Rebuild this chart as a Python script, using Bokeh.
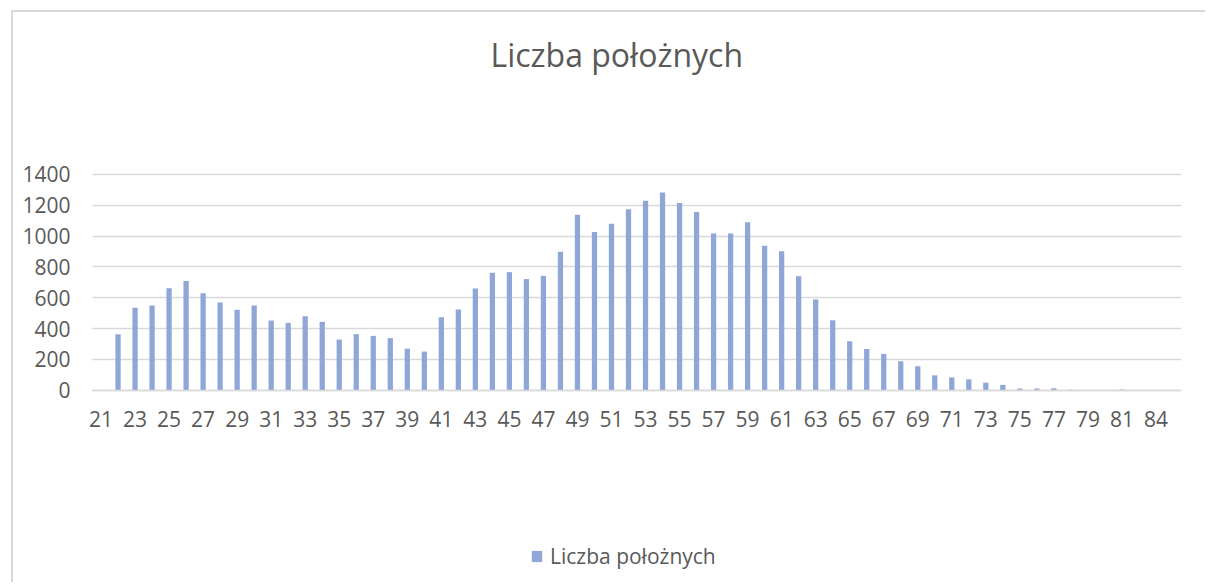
from bokeh.plotting import figure
from bokeh.models import (ColumnDataSource, Range1d, FixedTicker,
                          Legend, LegendItem, Title, BoxAnnotation)
from bokeh.embed import file_html
from bokeh.resources import INLINE

# ---- data ----
ages = ["21", "22", "23", "24", "25", "26", "27", "28", "29", "30",
        "31", "32", "33", "34", "35", "36", "37", "38", "39", "40",
        "41", "42", "43", "44", "45", "46", "47", "48", "49", "50",
        "51", "52", "53", "54", "55", "56", "57", "58", "59", "60",
        "61", "62", "63", "64", "65", "66", "67", "68", "69", "70",
        "71", "72", "73", "74", "75", "76", "77", "78", "79", "80",
        "81", "82", "84", "85"]
counts = [0, 364, 535, 550, 662, 708, 630, 569, 522, 550,
          452, 437, 480, 444, 329, 364, 353, 338, 270, 251,
          474, 524, 660, 762, 766, 721, 742, 898, 1138, 1026,
          1080, 1173, 1229, 1283, 1214, 1156, 1017, 1017, 1089, 937,
          902, 740, 589, 454, 318, 268, 236, 188, 156, 97,
          84, 71, 50, 35, 11, 11, 13, 4, 2, 2,
          6, 0, 0, 0]
y_ticks = [0, 200, 400, 600, 800, 1000, 1200, 1400]
series_name = "Liczba położnych"
title_text = "Liczba położnych"

FONT = "Open Sans"
TXT = "#595959"
GRID = "#d9d9d9"
BAR = "#8FA6D7"

pos = list(range(len(ages)))
src = ColumnDataSource(dict(pos=pos, age=ages, n=counts))

cat_start = -0.5                      # left edge of the category axis
x_lo = cat_start - 14 / 17            # a little room for the first tick label

# the plot area reaches down to the chart's bottom edge so that the legend can sit
# inside it; the value axis keeps 0 at the category axis line
p = figure(x_range=Range1d(x_lo, len(ages) - 0.5), y_range=Range1d(-1259, 1425),
           width=1194, height=572, output_backend="svg", toolbar_location=None,
           min_border_left=65, min_border_right=26, min_border_top=158,
           min_border_bottom=0)
p.title = None
p.margin = (10, 0, 0, 11)
p.styles = {"border-top": "2px solid #d9d9d9", "border-left": "2px solid #d9d9d9"}
p.outline_line_color = None
p.background_fill_color = "white"
p.border_fill_color = "white"

# grid
p.xgrid.grid_line_color = None
p.ygrid.grid_line_color = GRID
p.ygrid.grid_line_width = 1.5
# keep gridlines starting at the category axis' left edge
p.add_layout(BoxAnnotation(right=cat_start, fill_color="white", fill_alpha=1,
                           line_alpha=0, level="underlay"))

r = p.vbar(x="pos", top="n", bottom=0, width=0.31, source=src,
           fill_color=BAR, line_color=None)

# y axis
p.yaxis.ticker = FixedTicker(ticks=y_ticks, minor_ticks=[])
p.yaxis.axis_line_color = None
p.yaxis.major_tick_line_color = None
p.yaxis.minor_tick_line_color = None
p.yaxis.major_tick_out = 0
p.yaxis.major_tick_in = 0
p.yaxis.major_label_standoff = 8
p.yaxis.major_label_text_font = FONT
p.yaxis.major_label_text_font_size = "21px"
p.yaxis.major_label_text_color = TXT

# x axis at value 0, every other age labelled
p.xaxis.fixed_location = 0
p.xaxis.bounds = (cat_start, len(ages) - 0.5)
p.xaxis.ticker = FixedTicker(ticks=pos[::2], minor_ticks=[])
p.xaxis.major_label_overrides = {i: ages[i] for i in pos[::2]}
p.xaxis.axis_line_color = GRID
p.xaxis.axis_line_width = 1.5
p.xaxis.major_tick_line_color = None
p.xaxis.minor_tick_line_color = None
p.xaxis.major_tick_out = 0
p.xaxis.major_tick_in = 0
p.xaxis.major_label_standoff = 21
p.xaxis.major_label_text_font = FONT
p.xaxis.major_label_text_font_size = "21px"
p.xaxis.major_label_text_color = TXT

# title (spacer title keeps it high above the plot area)
p.add_layout(Title(text=" ", text_font_size="10px", standoff=77), "above")
p.add_layout(Title(text=title_text, align="left", offset=412, standoff=10,
                   text_font=FONT, text_font_size="32px", text_font_style="normal",
                   text_color=TXT), "above")

# legend
legend = Legend(items=[LegendItem(label=series_name, renderers=[r])],
                location=(452, 14), padding=0, margin=0,
                glyph_width=13, glyph_height=14, label_standoff=7,
                border_line_color=None, background_fill_alpha=0,
                label_text_font=FONT, label_text_font_size="21px",
                label_text_color=TXT)
p.add_layout(legend)

open("out.html", "w").write(file_html(p, INLINE))
